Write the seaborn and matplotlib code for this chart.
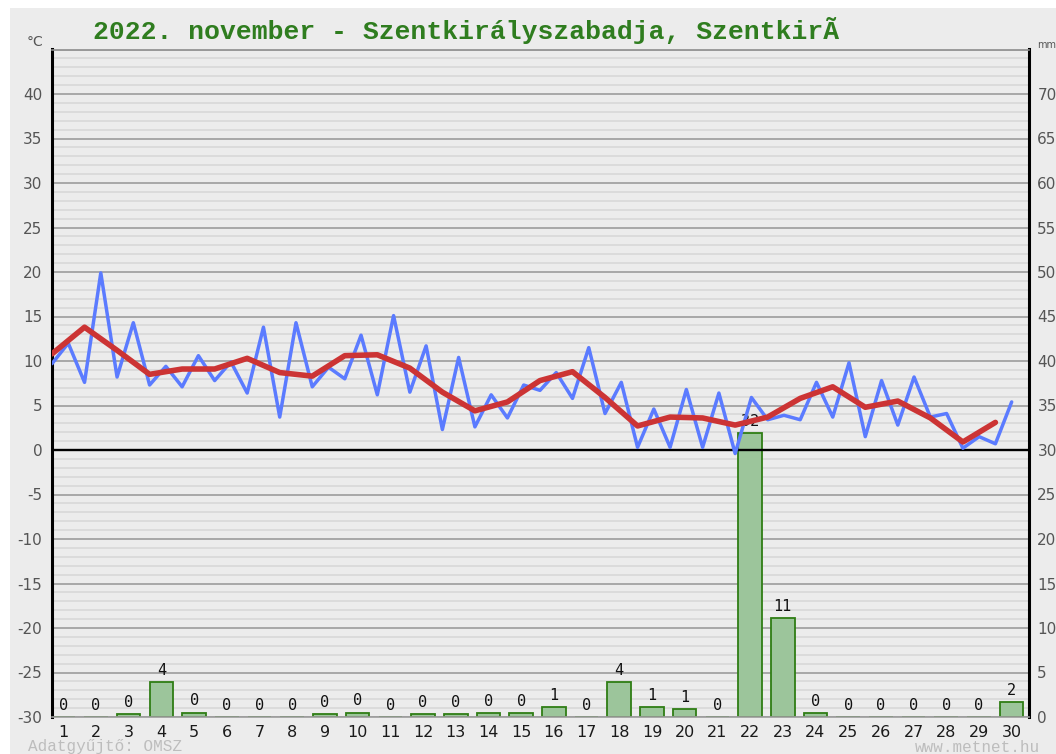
import numpy as np
import pandas as pd
import matplotlib
matplotlib.use("Agg")
import matplotlib.pyplot as plt
from matplotlib.patches import Rectangle
import seaborn as sns

# --- data (2022 November) ---
days = list(range(1, 31))
day_labels = [str(d) for d in days]

# half-daily temperature readings (max / min alternating), degC
temp_halfday = [
    9.7, 12.0, 7.6, 19.9, 8.2, 14.3, 7.3, 9.4, 7.1, 10.6,
    7.8, 9.9, 6.4, 13.8, 3.7, 14.3, 7.1, 9.3, 8.0, 12.9,
    6.2, 15.1, 6.5, 11.7, 2.3, 10.4, 2.6, 6.2, 3.6, 7.3,
    6.7, 8.7, 5.8, 11.5, 4.1, 7.6, 0.3, 4.6, 0.3, 6.8,
    0.3, 6.4, -0.4, 5.9, 3.4, 3.9, 3.4, 7.6, 3.7, 9.8,
    1.5, 7.8, 2.8, 8.2, 3.7, 4.1, 0.2, 1.5, 0.7, 5.4,
]

# daily mean temperature, degC
temp_daily_mean = [
    10.8, 13.8, 11.2, 8.5, 9.1, 9.1, 10.3, 8.7, 8.3, 10.6,
    10.7, 9.2, 6.5, 4.4, 5.4, 7.8, 8.8, 5.9, 2.7, 3.7,
    3.6, 2.8, 3.7, 5.8, 7.1, 4.8, 5.5, 3.6, 0.9, 3.1,
]

# daily precipitation, mm
precip_mm = [
    0.0, 0.0, 0.3, 3.9, 0.5, 0.0, 0.0, 0.0, 0.3, 0.5,
    0.0, 0.3, 0.3, 0.4, 0.4, 1.1, 0.0, 3.9, 1.1, 0.9,
    0.0, 31.9, 11.1, 0.4, 0.0, 0.0, 0.0, 0.0, 0.0, 1.7,
]

title = "2022. november - Szentkirályszabadja, SzentkirÃ"

# x positions of the temperature readings (half-day steps)
blue_x = np.linspace(0.654, 30.0, len(temp_halfday))
red_x = blue_x[::2]

sns.set_theme(style="white")
plt.rcParams['font.family'] = ['DejaVu Sans']
plt.rcParams['axes.unicode_minus'] = False

W, H = 1056, 754
BG = '#ececec'
fig = plt.figure(figsize=(W / 100, H / 100), dpi=100, facecolor='white')
fig.add_artist(Rectangle((10 / W, 0), 1 - 10 / W, 1 - 8 / H, transform=fig.transFigure,
                         facecolor=BG, edgecolor='none', zorder=-1))

ax = fig.add_axes([52 / W, 1 - 717 / H, (1029 - 52) / W, (717 - 49.5) / H])
ax2 = ax.twinx()
ax.set_zorder(ax2.get_zorder() + 1)
ax.patch.set_visible(False)
ax2.patch.set_visible(True)
ax2.set_facecolor(BG)

# precipitation bars on the mm axis (drawn underneath)
df_p = pd.DataFrame({'day': days, 'mm': precip_mm})
sns.barplot(data=df_p, x='day', y='mm', native_scale=True, width=0.72, color='#9cc59b',
            saturation=1, edgecolor='#2f7d14', linewidth=1.3, errorbar=None, ax=ax2, zorder=2)
ax2.bar_label(ax2.containers[0], labels=[f"{v:.0f}" for v in precip_mm], padding=3,
              fontsize=11, family='DejaVu Sans Mono', color='#111111')

ax2.set_ylim(0, 75)
ax2.set_yticks(range(0, 71, 5))
ax2.set_yticks(range(0, 76), minor=True)
ax2.grid(which='minor', axis='y', color='#d8d8d8', linewidth=1.2)
ax2.grid(which='major', axis='y', color='#9c9c9c', linewidth=1.2)
ax2.set_axisbelow(True)
ax2.tick_params(axis='y', which='both', length=0, labelsize=11, labelcolor='#555555', pad=6)
ax2.set_ylabel('')
for s in ax2.spines.values():
    s.set_visible(False)

# temperature lines on the degC axis
sns.lineplot(x=blue_x, y=temp_halfday, ax=ax, color='#5b7bff', linewidth=2.5, zorder=4)
sns.lineplot(x=red_x, y=temp_daily_mean, ax=ax, color='#cc3434', linewidth=4, zorder=5)
ax.axhline(0, color='black', linewidth=1.7, zorder=3)

ax.set_ylim(-30, 45)
ax.set_yticks(range(-30, 41, 5))
ax.set_xlim(0.654, 30.53)
ax.set_xticks(days)
ax.set_xticklabels(day_labels)
ax.set_xlabel('')
ax.set_ylabel('')
ax.tick_params(axis='x', length=0, labelsize=11.5, labelcolor='#1a1a1a', pad=6)
ax.tick_params(axis='y', length=0, labelsize=11, labelcolor='#555555', pad=7)

for side in ['left', 'right']:
    ax.spines[side].set_color('black')
    ax.spines[side].set_linewidth(2.2)
ax.spines['top'].set_color('#8c8c8c')
ax.spines['top'].set_linewidth(1.2)
ax.spines['bottom'].set_color('#9c9c9c')
ax.spines['bottom'].set_linewidth(1.2)

# texts around the frame
fig.text(93 / W, 1 - 30 / H, title, ha='left', va='center', fontsize=19,
         family='Liberation Mono', fontweight='bold', color='#2f7d1f')
fig.text(35 / W, 1 - 42 / H, '°C', ha='center', va='center', fontsize=10, color='#555555')
fig.text(1037 / W, 1 - 45 / H, 'mm', ha='left', va='center', fontsize=7, color='#555555')
fig.text(28 / W, 1 - 747 / H, 'Adatgyűjtő: OMSZ', ha='left', va='center', fontsize=11.5,
         family='Liberation Mono', color='#bdbdbd')
fig.text(1040 / W, 1 - 747 / H, 'www.metnet.hu', ha='right', va='center', fontsize=11.5,
         family='Liberation Mono', color='#bdbdbd')

fig.savefig('out.png', dpi=100, facecolor='white')
